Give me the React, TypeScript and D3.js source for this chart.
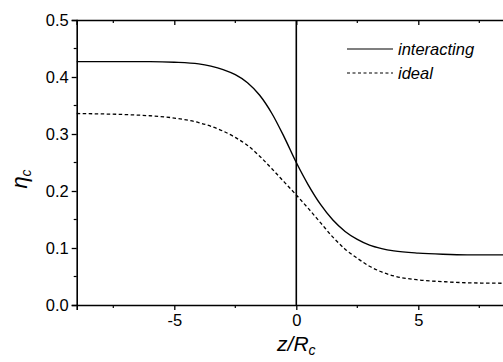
import React, { useEffect, useRef } from 'react';
import * as d3 from 'd3';

// z/Rc positions and eta_c values
const zInteracting = [-9, -6, -5, -4, -3.5, -3, -2.5, -2, -1.5, -1, -0.5, 0, 0.5, 1, 1.5, 2, 2.5, 3, 3.5, 4, 5, 6, 7, 9];
const etaInteracting = [0.427, 0.427, 0.426, 0.423, 0.419, 0.413, 0.404, 0.39, 0.368, 0.336, 0.295, 0.25, 0.21, 0.176, 0.149, 0.129, 0.115, 0.105, 0.099, 0.095, 0.091, 0.089, 0.088, 0.088];

const zIdeal = [-9, -6, -5, -4, -3, -2.5, -2, -1.5, -1, -0.5, 0, 0.5, 1, 1.5, 2, 2.5, 3, 3.5, 4, 5, 6, 7, 9];
const etaIdeal = [0.336, 0.332, 0.328, 0.32, 0.305, 0.294, 0.28, 0.261, 0.239, 0.216, 0.193, 0.169, 0.144, 0.119, 0.098, 0.082, 0.068, 0.058, 0.051, 0.044, 0.041, 0.039, 0.038];

const xMajor = [-5, 0, 5];
const xMinor = [-7.5, -2.5, 2.5, 7.5];
const yMajor = [0, 0.1, 0.2, 0.3, 0.4, 0.5];
const yMinor = [0.05, 0.15, 0.25, 0.35, 0.45];

const legendItems = [
  { label: 'interacting', dash: null },
  { label: 'ideal', dash: '3,2.5' },
];

const App = () => {
  const svgRef = useRef<SVGSVGElement>(null);

  useEffect(() => {
    const svg = d3.select(svgRef.current);
    svg.selectAll('*').remove();

    const x = d3.scaleLinear().domain([-9, 9]).range([76.7, 515.9]);
    const y = d3.scaleLinear().domain([0, 0.5]).range([305, 20]);
    const font = 'Liberation Sans, Arial, sans-serif';

    const g = svg.append('g');

    // vertical line at z = 0
    g.append('line')
      .attr('x1', x(0)).attr('x2', x(0))
      .attr('y1', y(0.5)).attr('y2', y(0))
      .attr('stroke', '#000').attr('stroke-width', 1.6);

    const line = d3.line<[number, number]>()
      .x(d => x(d[0]))
      .y(d => y(d[1]))
      .curve(d3.curveMonotoneX);

    g.append('path')
      .attr('d', line(zInteracting.map((z, i) => [z, etaInteracting[i]]) as [number, number][]))
      .attr('fill', 'none').attr('stroke', '#000').attr('stroke-width', 1.4);

    g.append('path')
      .attr('d', line(zIdeal.map((z, i) => [z, etaIdeal[i]]) as [number, number][]))
      .attr('fill', 'none').attr('stroke', '#000').attr('stroke-width', 1.3)
      .attr('stroke-dasharray', '3.5,2.5');

    // bottom axis: ticks outward
    const bottom = g.append('g').attr('transform', `translate(0,${y(0)})`);
    bottom.call(d3.axisBottom(x).tickValues(xMajor).tickSize(5).tickPadding(4).tickFormat(d3.format('d')));
    bottom.selectAll('.tick')
      .filter((d: any) => d < 0)
      .select('text').text((d: any) => '-' + Math.abs(d));
    bottom.append('g').selectAll('line').data(xMinor).enter().append('line')
      .attr('x1', d => x(d)).attr('x2', d => x(d))
      .attr('y1', 0).attr('y2', 3).attr('stroke', '#000').attr('stroke-width', 1.2);

    // top axis: ticks inward
    const top = g.append('g').attr('transform', `translate(0,${y(0.5)})`);
    top.call(d3.axisBottom(x).tickValues(xMajor).tickSize(5).tickFormat(() => ''));
    top.append('g').selectAll('line').data(xMinor).enter().append('line')
      .attr('x1', d => x(d)).attr('x2', d => x(d))
      .attr('y1', 0).attr('y2', 3).attr('stroke', '#000').attr('stroke-width', 1.2);

    // left axis: ticks outward
    const left = g.append('g').attr('transform', `translate(${x(-9)},0)`);
    left.call(d3.axisLeft(y).tickValues(yMajor).tickSize(5).tickPadding(3).tickFormat(d3.format('.1f')));
    left.append('g').selectAll('line').data(yMinor).enter().append('line')
      .attr('x1', 0).attr('x2', -3)
      .attr('y1', d => y(d)).attr('y2', d => y(d)).attr('stroke', '#000').attr('stroke-width', 1.2);

    [bottom, top, left].forEach(a => {
      a.select('.domain').attr('stroke', '#000').attr('stroke-width', 1.6);
      a.selectAll('.tick line').attr('stroke', '#000').attr('stroke-width', 1.3);
      a.selectAll('.tick text')
        .attr('fill', '#000')
        .style('font-family', font)
        .style('font-size', '16.5px');
    });

    // axis titles
    const xt = g.append('text')
      .attr('x', x(0)).attr('y', 351)
      .attr('text-anchor', 'middle')
      .style('font-family', font).style('font-size', '21px').style('font-style', 'italic');
    xt.append('tspan').text('z/R');
    xt.append('tspan').attr('dy', 4).style('font-size', '14px').text('c');

    const yt = g.append('text')
      .attr('transform', `translate(27,179) rotate(-90)`)
      .attr('text-anchor', 'middle')
      .style('font-family', font).style('font-size', '22px').style('font-style', 'italic');
    yt.append('tspan').text('η');
    yt.append('tspan').attr('dy', 4).style('font-size', '14px').text('c');

    // legend
    const legend = g.append('g');
    legendItems.forEach((item, i) => {
      const ly = 49 + i * 24;
      legend.append('line')
        .attr('x1', 347).attr('x2', 393)
        .attr('y1', ly).attr('y2', ly)
        .attr('stroke', '#000').attr('stroke-width', 1.2)
        .attr('stroke-dasharray', item.dash);
      legend.append('text')
        .attr('x', 398).attr('y', ly + 6)
        .style('font-family', font).style('font-size', '16.5px').style('font-style', 'italic')
        .text(item.label);
    });
  }, []);

  return (
    <svg
      ref={svgRef}
      width={503}
      height={362}
      style={{ position: 'absolute', left: 0, top: 0, background: '#fff' }}
    />
  );
};

export default App;
